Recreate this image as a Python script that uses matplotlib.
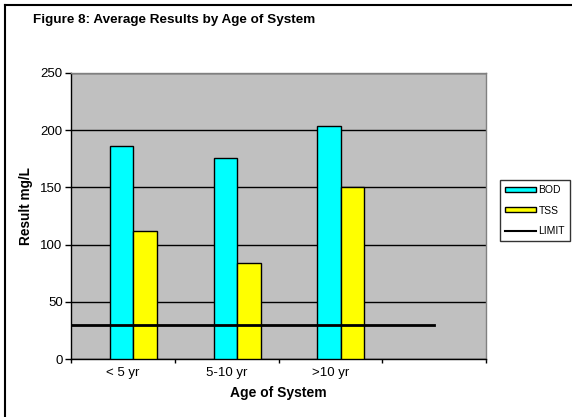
import matplotlib
matplotlib.use("Agg")
import matplotlib.pyplot as plt
import numpy as np
from matplotlib.patches import Patch
from matplotlib.lines import Line2D

plt.rcParams['font.family'] = ['Liberation Sans', 'DejaVu Sans']

categories = ['< 5 yr', '5-10 yr', '>10 yr', '']
bod = [186, 176, 204]
tss = [112, 84, 150]
limit = [30, 30, 30, 30]
yticks = [0, 50, 100, 150, 200, 250]

W, H = 572, 417
fig = plt.figure(figsize=(W / 100, H / 100), dpi=100)
fig.patch.set_facecolor('white')

# chart-area border (left and top visible)
fig.add_artist(Line2D([5 / W, 5 / W], [0, 1 - 5 / H], color='black', lw=1.5,
                      transform=fig.transFigure))
fig.add_artist(Line2D([5 / W, 1], [1 - 5 / H, 1 - 5 / H], color='black', lw=1.5,
                      transform=fig.transFigure))

left, right, top, bottom = 71, 486, 73, 359
ax = fig.add_axes([left / W, (H - bottom) / H, (right - left) / W, (bottom - top) / H])
ax.set_facecolor('#C0C0C0')

n = len(categories)
x = np.arange(len(bod))
bw = 0.226
ax.bar(x - 0.125, bod, width=bw, align='edge', color='#00FFFF',
       edgecolor='black', linewidth=1, zorder=3)
ax.bar(x - 0.125 + bw, tss, width=bw, align='edge', color='#FFFF00',
       edgecolor='black', linewidth=1, zorder=3)

lx = np.concatenate([[-0.5], np.arange(1, len(limit))])
ax.plot(lx, limit, color='black', lw=2, zorder=4)

ax.set_xlim(-0.5, n - 0.5)
ax.set_ylim(0, 250)
ax.set_yticks(yticks)
ax.set_yticklabels([str(v) for v in yticks], fontsize=9.5)
ax.yaxis.grid(True, color='black', lw=1, zorder=1)
ax.set_axisbelow(True)

ax.set_xticks(np.arange(n))
ax.set_xticklabels(categories, fontsize=9.5)
ax.tick_params(axis='x', which='major', length=0, pad=6)
ax.set_xticks(np.arange(n + 1) - 0.5, minor=True)
ax.tick_params(axis='x', which='minor', length=3, width=1, direction='out')
ax.tick_params(axis='y', length=4, width=1, direction='out', pad=2)

for s in ['top', 'right']:
    ax.spines[s].set_color('#808080')
    ax.spines[s].set_linewidth(1)
for s in ['left', 'bottom']:
    ax.spines[s].set_color('black')
    ax.spines[s].set_linewidth(1)

fig.text(26 / W, 1 - 206 / H, 'Result mg/L', fontsize=9.8, fontweight='bold',
         rotation=90, ha='center', va='center')
ax.set_xlabel('Age of System', fontsize=10, fontweight='bold', labelpad=5)

fig.text(33 / W, 1 - 20 / H, 'Figure 8: Average Results by Age of System',
         fontsize=9.7, fontweight='bold', ha='left', va='center')

handles = [Patch(facecolor='#00FFFF', edgecolor='black', label='BOD'),
           Patch(facecolor='#FFFF00', edgecolor='black', label='TSS'),
           Line2D([0], [0], color='black', lw=1.5, label='LIMIT')]
leg = fig.legend(handles=handles, loc='center left',
                 bbox_to_anchor=(500 / W, 1 - 210.5 / H),
                 fontsize=7.5, frameon=True, fancybox=False, edgecolor='black',
                 handlelength=3.0, handleheight=0.4, handletextpad=0.2,
                 borderpad=0.5, labelspacing=1.0, borderaxespad=0)
leg.get_frame().set_linewidth(1)

fig.savefig('out.png', dpi=100)
